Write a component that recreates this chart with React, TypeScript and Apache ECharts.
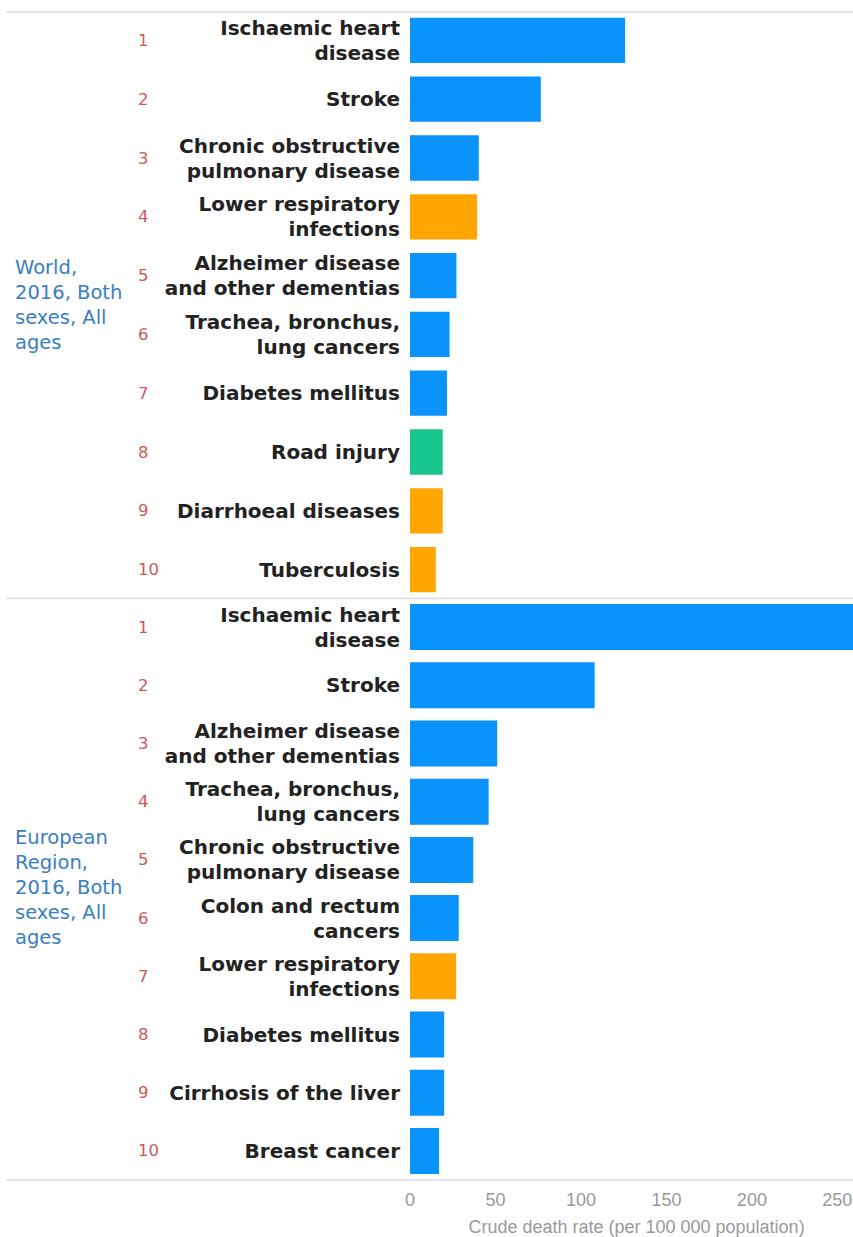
import React, { useEffect, useRef } from "react";
import * as echarts from "echarts";

const ranks = ["1", "2", "3", "4", "5", "6", "7", "8", "9", "10"];

const worldCauses = [
  "Ischaemic heart\ndisease",
  "Stroke",
  "Chronic obstructive\npulmonary disease",
  "Lower respiratory\ninfections",
  "Alzheimer disease\nand other dementias",
  "Trachea, bronchus,\nlung cancers",
  "Diabetes mellitus",
  "Road injury",
  "Diarrhoeal diseases",
  "Tuberculosis",
];
const worldValues = [125, 76, 40, 39, 27, 23, 21.5, 19, 19, 15];
const worldGroups = ["ncd", "ncd", "ncd", "comm", "ncd", "ncd", "ncd", "inj", "comm", "comm"];

const europeCauses = [
  "Ischaemic heart\ndisease",
  "Stroke",
  "Alzheimer disease\nand other dementias",
  "Trachea, bronchus,\nlung cancers",
  "Chronic obstructive\npulmonary disease",
  "Colon and rectum\ncancers",
  "Lower respiratory\ninfections",
  "Diabetes mellitus",
  "Cirrhosis of the liver",
  "Breast cancer",
];
const europeValues = [262, 108, 51, 46, 37, 28.5, 27, 20, 20, 17];
const europeGroups = ["ncd", "ncd", "ncd", "ncd", "ncd", "ncd", "comm", "ncd", "ncd", "ncd"];

const xTicks = [0, 50, 100, 150, 200, 250];
const axisTitle = "Crude death rate (per 100 000 population)";
const worldLabel = "World,\n2016, Both\nsexes, All\nages";
const europeLabel = "European\nRegion,\n2016, Both\nsexes, All\nages";

const groupColors: Record<string, string> = {
  ncd: "#0a94fb",
  comm: "#ffa600",
  inj: "#17c58e",
};

const nameLabel = {
  fontFamily: "DejaVu Sans",
  fontWeight: "bold" as const,
  fontSize: 20,
  lineHeight: 25,
  color: "#222",
  margin: 10,
};
const rankLabel = {
  fontFamily: "DejaVu Sans",
  fontSize: 16.5,
  color: "#cc5a5c",
  margin: 272,
  align: "left" as const,
};

export default function App() {
  const ref = useRef<HTMLDivElement>(null);
  useEffect(() => {
    if (!ref.current) return;
    const chart = echarts.init(ref.current, null, { renderer: "svg" });
    const makeY = (grid: number, data: string[], isRank: boolean) => ({
      type: "category" as const,
      gridIndex: grid,
      data,
      inverse: true,
      position: "left" as const,
      axisLine: { show: false },
      axisTick: { show: false },
      splitLine: { show: false },
      axisLabel: isRank ? rankLabel : nameLabel,
    });
    const makeX = (grid: number, showLabels: boolean) => ({
      type: "value" as const,
      gridIndex: grid,
      min: 0,
      max: 265,
      interval: 50,
      axisLine: { show: false },
      axisTick: { show: false },
      splitLine: { show: false },
      axisLabel: {
        show: showLabels,
        fontFamily: "Liberation Sans",
        fontSize: 18,
        color: "#999",
        margin: 11,
        formatter: (v: number) => (xTicks.includes(v) ? String(v) : ""),
      },
      name: showLabels ? axisTitle : "",
      nameLocation: "middle" as const,
      nameGap: 38,
      nameTextStyle: {
        fontFamily: "Liberation Sans",
        fontSize: 18,
        color: "#999",
      },
    });
    const lineStyle = { stroke: "#dcdcdc", lineWidth: 1.5 };
    const groupText = (text: string, y: number) => ({
      type: "text",
      x: 15,
      y,
      style: {
        text,
        fontFamily: "DejaVu Sans",
        fontSize: 19.5,
        lineHeight: 25,
        fill: "#3a7ebf",
        verticalAlign: "middle",
        align: "left",
      },
    });
    chart.setOption({
      animation: false,
      grid: [
        { left: 410, right: 0, top: 11, height: 588 },
        { left: 410, right: 0, top: 598, height: 582 },
      ],
      xAxis: [makeX(0, false), makeX(1, true)],
      yAxis: [
        makeY(0, worldCauses, false),
        makeY(0, ranks, true),
        makeY(1, europeCauses, false),
        makeY(1, ranks, true),
      ],
      series: [
        {
          type: "bar",
          xAxisIndex: 0,
          yAxisIndex: 0,
          barCategoryGap: "23%",
          data: worldValues.map((v, i) => ({ value: v, itemStyle: { color: groupColors[worldGroups[i]] } })),
        },
        {
          type: "bar",
          xAxisIndex: 1,
          yAxisIndex: 2,
          barCategoryGap: "21%",
          data: europeValues.map((v, i) => ({ value: v, itemStyle: { color: groupColors[europeGroups[i]] } })),
        },
      ],
      graphic: [
        { type: "line", shape: { x1: 6, y1: 12, x2: 866, y2: 12 }, style: lineStyle, silent: true },
        { type: "line", shape: { x1: 6, y1: 598.5, x2: 866, y2: 598.5 }, style: lineStyle, silent: true },
        { type: "line", shape: { x1: 6, y1: 1180, x2: 866, y2: 1180 }, style: lineStyle, silent: true },
        groupText(worldLabel, 305),
        groupText(europeLabel, 887),
      ],
    });
    return () => chart.dispose();
  }, []);
  return (
    <div style={{ position: "fixed", left: 0, top: 0, width: 853, height: 1237, overflow: "hidden", background: "#fff" }}>
      <div ref={ref} style={{ width: 866, height: 1237 }} />
    </div>
  );
}
